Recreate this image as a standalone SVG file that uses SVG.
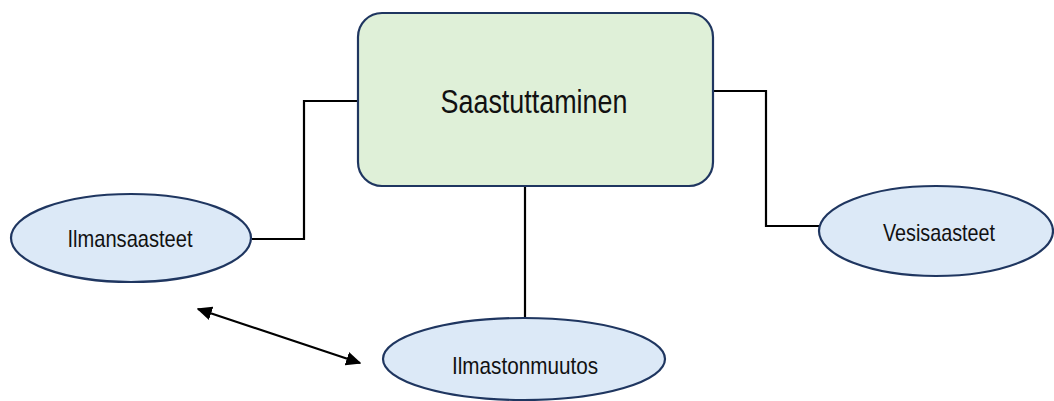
<svg xmlns="http://www.w3.org/2000/svg" width="1054" height="401" viewBox="0 0 1054 401">
<style>
.node{stroke:#1f3660;stroke-width:2.2}
.rect{fill:#dff0d8}
.ell{fill:#dce9f7}
.lbl{font-family:"Liberation Sans",Arial,sans-serif;fill:#111;text-anchor:middle}
.con{fill:none;stroke:#000;stroke-width:2.2}
</style>
<defs>
<marker id="ah" viewBox="0 0 10 10" refX="9" refY="5" markerWidth="7" markerHeight="7" orient="auto-start-reverse" markerUnits="strokeWidth">
<path d="M0,0.5 L10,5 L0,9.5 z" fill="#000"/>
</marker>
</defs>
<rect width="1054" height="401" fill="#fff"/>
<g id="connectors">
<polyline class="con" points="252,239 304,239 304,101 358,101"/>
<polyline class="con" points="713,91 766,91 766,226 819,226"/>
<line class="con" x1="525" y1="186" x2="525" y2="318"/>
<line class="con" x1="198" y1="309" x2="360" y2="363" marker-start="url(#ah)" marker-end="url(#ah)"/>
</g>
<g id="node-saastuttaminen">
<rect class="node rect" x="358" y="13" width="355" height="173" rx="24"/>
<text class="lbl" x="534" y="113" font-size="34" textLength="187" lengthAdjust="spacingAndGlyphs">Saastuttaminen</text>
</g>
<g id="node-ilmansaasteet">
<ellipse class="node ell" cx="131" cy="238" rx="120" ry="44"/>
<text class="lbl" x="130" y="247" font-size="24" textLength="125" lengthAdjust="spacingAndGlyphs">Ilmansaasteet</text>
</g>
<g id="node-vesisaasteet">
<ellipse class="node ell" cx="936" cy="231" rx="117" ry="45"/>
<text class="lbl" x="939" y="241" font-size="24" textLength="112" lengthAdjust="spacingAndGlyphs">Vesisaasteet</text>
</g>
<g id="node-ilmastonmuutos">
<ellipse class="node ell" cx="524" cy="359" rx="141" ry="41"/>
<text class="lbl" x="525" y="374" font-size="24" textLength="146" lengthAdjust="spacingAndGlyphs">Ilmastonmuutos</text>
</g>
</svg>
